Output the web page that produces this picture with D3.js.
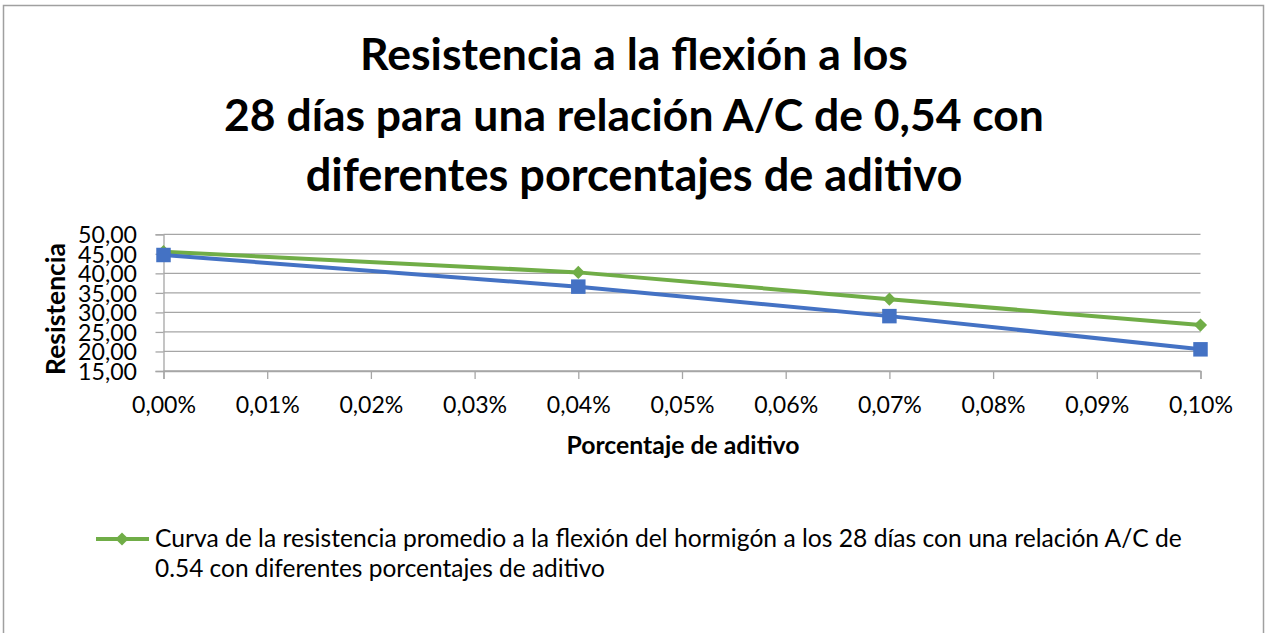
<!DOCTYPE html>
<html>
<head>
<meta charset="utf-8">
<script src="https://cdn.jsdelivr.net/npm/d3@7"></script>
<style>
  html, body { margin: 0; padding: 0; background: #fff; }
  svg { display: block; }
  text { font-family: Lato, "Open Sans", sans-serif; fill: #000; }
</style>
</head>
<body>
<svg id="chart" width="1268" height="633"></svg>
<script>
// Flexural strength at 28 days, w/c ratio 0.54, by additive percentage
const additive = [0.0000, 0.0004, 0.0007, 0.0010];
const resistenciaPromedio = [45.55, 40.25, 33.40, 26.75];   // green series (in legend)
const resistenciaCurva = [44.70, 36.60, 29.05, 20.55];      // blue series
const yTicks = [15, 20, 25, 30, 35, 40, 45, 50];
const xTicks = [0, 0.0001, 0.0002, 0.0003, 0.0004, 0.0005, 0.0006, 0.0007, 0.0008, 0.0009, 0.0010];
const titleLines = [
  "Resistencia a la flexión a los",
  "28 días para una relación A/C de 0,54 con",
  "diferentes porcentajes de aditivo"
];
const legendLines = [
  "Curva de la resistencia promedio a la flexión del hormigón a los 28 días con una relación A/C de",
  "0.54 con diferentes porcentajes de aditivo"
];

const GREEN = "#70AD47", BLUE = "#4472C4", GRID = "#A6A6A6";
const svg = d3.select("#chart");

// Font size that makes a text element span the given width
function fitSize(sel, width) {
  const fs = parseFloat(sel.attr("font-size"));
  return fs * width / sel.node().getComputedTextLength();
}
function fit(sel, width) {
  return sel.attr("font-size", fitSize(sel, width).toFixed(2));
}

// Chart frame
svg.append("rect")
  .attr("x", 3.5).attr("y", 5.5).attr("width", 1260).attr("height", 640)
  .attr("fill", "none").attr("stroke", "#A0A0A0").attr("stroke-width", 1.5);

// Title
const titleY = [70, 131, 191];
const titleW = [548, 820, 657];
titleLines.forEach((t, i) => {
  fit(svg.append("text")
    .attr("x", 634).attr("y", titleY[i])
    .attr("text-anchor", "middle")
    .attr("font-weight", "bold")
    .attr("font-size", 40)
    .text(t), titleW[i]);
});

const x = d3.scaleLinear().domain([0, 0.001]).range([163.5, 1200.5]);
const y = d3.scaleLinear().domain([15, 50]).range([371, 234.3]);

// Horizontal gridlines
svg.append("g")
  .selectAll("line")
  .data(yTicks)
  .join("line")
  .attr("x1", x(0)).attr("x2", x(0.001))
  .attr("y1", d => y(d)).attr("y2", d => y(d))
  .attr("stroke", GRID).attr("stroke-width", 1.3);

// Y axis
const fmtY = d3.formatLocale({ decimal: ",", thousands: ".", grouping: [3], currency: ["", ""] }).format(".2f");
const yAxis = svg.append("g")
  .attr("transform", `translate(${x(0)},0)`)
  .call(d3.axisLeft(y).tickValues(yTicks).tickFormat(fmtY).tickSize(8).tickPadding(18));
yAxis.select(".domain").attr("stroke", GRID).attr("stroke-width", 1.3);
yAxis.selectAll(".tick line").attr("stroke", GRID).attr("stroke-width", 1.3);
const yLabels = yAxis.selectAll(".tick text")
  .attr("font-family", "Lato, sans-serif").attr("font-size", 22).attr("fill", "#000")
  .attr("x", 137 - x(0)).attr("dy", "0.36em");
yLabels.attr("font-size", fitSize(d3.select(yLabels.node()), 59).toFixed(2));

// X axis
const fmtX = d => d3.format(".2f")(d * 100).replace(".", ",") + "%";
const xAxis = svg.append("g")
  .attr("transform", `translate(0,${y(15)})`)
  .call(d3.axisBottom(x).tickValues(xTicks).tickFormat(fmtX).tickSize(8).tickPadding(14));
xAxis.select(".domain").attr("stroke", GRID).attr("stroke-width", 1.3);
xAxis.selectAll(".tick line").attr("stroke", GRID).attr("stroke-width", 1.3);
const xLabels = xAxis.selectAll(".tick text")
  .attr("font-family", "Lato, sans-serif").attr("font-size", 22).attr("fill", "#000")
  .attr("y", 26).attr("dy", "0.71em");
xLabels.attr("font-size", fitSize(d3.select(xLabels.node()), 64).toFixed(2));

// Axis titles
fit(svg.append("text")
  .attr("x", 683).attr("y", 454)
  .attr("text-anchor", "middle").attr("font-weight", "bold").attr("font-size", 20)
  .text("Porcentaje de aditivo"), 233);

fit(svg.append("text")
  .attr("transform", "translate(65,309) rotate(-90)")
  .attr("text-anchor", "middle").attr("font-weight", "bold").attr("font-size", 20)
  .text("Resistencia"), 132);

// Series
const line = d3.line().x(d => x(d[0])).y(d => y(d[1]));
const greenData = additive.map((a, i) => [a, resistenciaPromedio[i]]);
const blueData = additive.map((a, i) => [a, resistenciaCurva[i]]);

function drawSeries(data, color, shape, size) {
  const g = svg.append("g");
  g.append("path").datum(data)
    .attr("d", line).attr("fill", "none")
    .attr("stroke", color).attr("stroke-width", 4).attr("stroke-linejoin", "round");
  g.selectAll("path.m").data(data).join("path")
    .attr("class", "m")
    .attr("transform", d => `translate(${x(d[0])},${y(d[1])})`)
    .attr("d", d3.symbol(shape, size)())
    .attr("fill", color);
}
drawSeries(greenData, GREEN, d3.symbolDiamond2, 110);
drawSeries(blueData, BLUE, d3.symbolSquare, 210);

// Legend
const lg = svg.append("g");
lg.append("line").attr("x1", 96).attr("x2", 149).attr("y1", 539).attr("y2", 539)
  .attr("stroke", GREEN).attr("stroke-width", 4);
lg.append("path").attr("transform", "translate(122,539)")
  .attr("d", d3.symbol(d3.symbolDiamond2, 110)()).attr("fill", GREEN);
const legW = [1027, 450];
legendLines.forEach((t, i) => {
  fit(lg.append("text")
    .attr("x", 155).attr("y", 547 + i * 30)
    .attr("font-size", 20)
    .text(t), legW[i]);
});
</script>
</body>
</html>
